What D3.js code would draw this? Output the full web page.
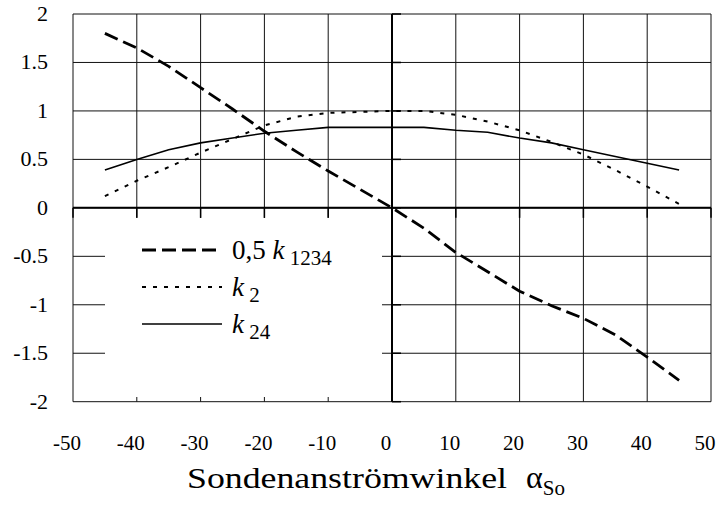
<!DOCTYPE html>
<html>
<head>
<meta charset="utf-8">
<script src="https://cdn.jsdelivr.net/npm/d3@7"></script>
<style>
  body { margin: 0; background: #fff; }
  text { font-family: "Liberation Serif", "Times New Roman", serif; fill: #000; }
</style>
</head>
<body>
<div id="chart"></div>
<script>
// Sondenanströmwinkel vs. Kennwerte
const angles = [-45, -40, -35, -30, -25, -20, -15, -10, -5, 0, 5, 10, 15, 20, 25, 30, 35, 40, 45]
const k1234half = [1.80, 1.65, 1.46, 1.24, 1.02, 0.79, 0.58, 0.38, 0.19, 0, -0.21, -0.46, -0.66, -0.86, -1.01, -1.14, -1.31, -1.54, -1.78]
const k2 = [0.12, 0.28, 0.42, 0.57, 0.71, 0.85, 0.94, 0.98, 0.99, 1.0, 1.0, 0.96, 0.89, 0.80, 0.68, 0.55, 0.39, 0.22, 0.04]
const k24 = [0.39, 0.50, 0.60, 0.67, 0.72, 0.77, 0.80, 0.83, 0.83, 0.83, 0.83, 0.80, 0.78, 0.72, 0.67, 0.60, 0.53, 0.46, 0.39]

const xTicks = [-50, -40, -30, -20, -10, 0, 10, 20, 30, 40, 50]
const yTicks = [-2, -1.5, -1, -0.5, 0, 0.5, 1, 1.5, 2]

const series = [
  {name: "0,5 ", k: "k", sub: " 1234", values: k1234half, dash: "14,6", width: 2.8},
  {name: "", k: "k", sub: " 2", values: k2, dash: "4,7", width: 2},
  {name: "", k: "k", sub: " 24", values: k24, dash: null, width: 1.6}
]

const W = 718, H = 506
const pLeft = 73, pRight = 711, pTop = 14, pBottom = 401.7

const svg = d3.select("#chart").append("svg")
  .attr("width", W).attr("height", H)

const x = d3.scaleLinear().domain([-50, 50]).range([pLeft, pRight])
const y = d3.scaleLinear().domain([-2, 2]).range([pBottom, pTop])

// grid
const grid = svg.append("g").attr("stroke", "#111").attr("stroke-width", 1)
grid.selectAll(".gx").data(xTicks).enter().append("line")
  .attr("x1", d => x(d)).attr("x2", d => x(d))
  .attr("y1", pTop).attr("y2", pBottom)
grid.selectAll(".gy").data(yTicks).enter().append("line")
  .attr("x1", pLeft).attr("x2", pRight)
  .attr("y1", d => y(d)).attr("y2", d => y(d))

// legend box hides part of the grid
svg.append("rect")
  .attr("x", 105).attr("y", 218).attr("width", 277).attr("height", 179)
  .attr("fill", "#fff")

// zero axes with small ticks
svg.append("line")
  .attr("x1", pLeft).attr("x2", pRight).attr("y1", y(0)).attr("y2", y(0))
  .attr("stroke", "#000").attr("stroke-width", 2)
svg.append("line")
  .attr("x1", x(0)).attr("x2", x(0)).attr("y1", pTop).attr("y2", pBottom)
  .attr("stroke", "#000").attr("stroke-width", 2)
svg.selectAll(".tx").data(xTicks).enter().append("line")
  .attr("x1", d => x(d)).attr("x2", d => x(d))
  .attr("y1", y(0)).attr("y2", y(0) + 10)
  .attr("stroke", "#000").attr("stroke-width", 1.5)
svg.selectAll(".ty").data(yTicks).enter().append("line")
  .attr("x1", x(0)).attr("x2", x(0) + 9)
  .attr("y1", d => y(d)).attr("y2", d => y(d))
  .attr("stroke", "#000").attr("stroke-width", 1.5)

// tick labels
svg.selectAll(".lx").data(xTicks).enter().append("text")
  .attr("x", d => x(d) - 6).attr("y", 450)
  .attr("text-anchor", "middle").attr("font-size", 21)
  .text(d => d)
svg.selectAll(".ly").data(yTicks).enter().append("text")
  .attr("x", 48).attr("y", d => y(d) + 7)
  .attr("text-anchor", "end").attr("font-size", 22)
  .text(d => d)

// curves
const line = d3.line().x(d => x(d[0])).y(d => y(d[1]))
series.forEach(s => {
  svg.append("path")
    .datum(angles.map((a, i) => [a, s.values[i]]))
    .attr("d", line)
    .attr("fill", "none").attr("stroke", "#000")
    .attr("stroke-width", s.width)
    .attr("stroke-dasharray", s.dash)
})

// legend
const legY = [250, 287, 324]
series.forEach((s, i) => {
  svg.append("line")
    .attr("x1", 142).attr("x2", 222).attr("y1", legY[i]).attr("y2", legY[i])
    .attr("stroke", "#000").attr("stroke-width", s.width)
    .attr("stroke-dasharray", s.dash)
  const t = svg.append("text").attr("x", 232).attr("y", legY[i] + 9)
    .attr("font-size", 27)
  t.append("tspan").text(s.name)
  t.append("tspan").attr("font-style", "italic").text(s.k)
  t.append("tspan").attr("font-size", 21).attr("dy", 6).text(s.sub)
})

// axis title
svg.append("text")
  .attr("x", 187).attr("y", 488)
  .attr("font-size", 30).attr("textLength", 320).attr("lengthAdjust", "spacingAndGlyphs")
  .text("Sondenanströmwinkel")
const at = svg.append("text").attr("x", 526).attr("y", 488).attr("font-size", 32)
at.append("tspan").text("α")
at.append("tspan").attr("font-size", 21).attr("dy", 7).text("So")
</script>
</body>
</html>
